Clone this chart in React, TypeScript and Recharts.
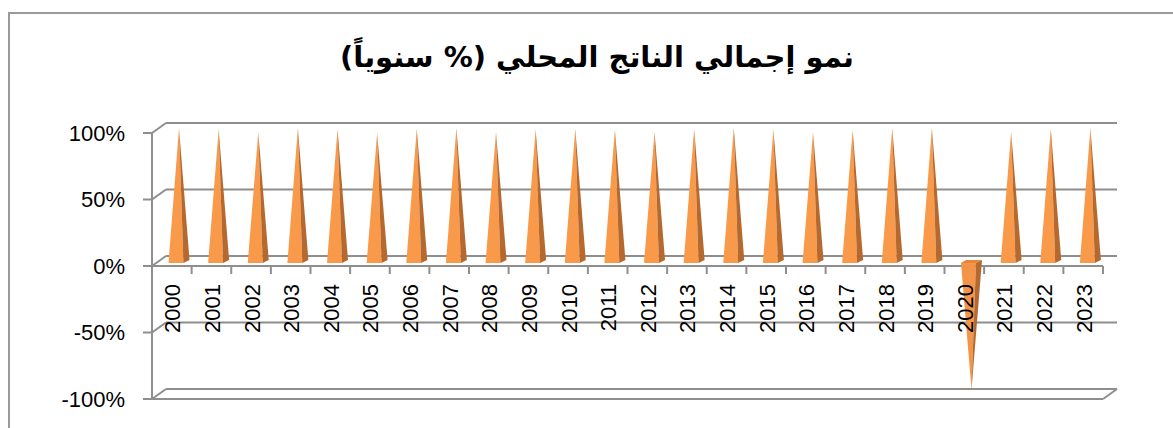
import { BarChart, Bar, XAxis, YAxis, CartesianGrid } from 'recharts';

const years = ['2000', '2001', '2002', '2003', '2004', '2005', '2006', '2007', '2008', '2009', '2010', '2011',
  '2012', '2013', '2014', '2015', '2016', '2017', '2018', '2019', '2020', '2021', '2022', '2023'];
const growth = [1.0, 0.988, 0.968, 1.0, 0.992, 0.962, 0.995, 1.0, 0.97, 0.988, 0.995, 0.988,
  0.97, 0.995, 1.0, 0.988, 0.97, 0.983, 1.0, 1.0, -0.968, 0.97, 0.995, 1.0];
const yTicks = [-1, -0.5, 0, 0.5, 1];
const title = 'نمو إجمالي الناتج المحلي (% سنوياً)';

const data = years.map((year, i) => ({ year, growth: growth[i] }));

// layout
const W = 1173;
const H = 428;
const Y_AXIS_W = 152;
const X_AXIS_H = 20;
const M = { top: 133, right: 70, bottom: 29 - X_AXIS_H, left: 0 };
const PLOT_BOTTOM = H - M.bottom - X_AXIS_H;
const ZERO_Y = (M.top + PLOT_BOTTOM) / 2;
const BAND = (W - M.right - Y_AXIS_W) / years.length;
const DX = 14; // 3d depth
const DY = -10;
const GRID = '#8e8e8e';

const gridLine = (p: any) => {
  const { x1, y1, x2, y2 } = p;
  const isZero = Math.abs(y1 - ZERO_Y) < 1;
  const isFloor = Math.abs(y1 - PLOT_BOTTOM) < 1;
  return (
    <g key={p.key}>
      <line x1={x1} y1={y1} x2={x1 + DX} y2={y1 + DY} stroke={GRID} strokeWidth={2} />
      <line x1={x1 + DX} y1={y1 + DY} x2={x2 + DX} y2={y2 + DY} stroke={GRID} strokeWidth={2} />
      {(isZero || isFloor) && <line x1={x1} y1={y1} x2={x2} y2={y2} stroke={GRID} strokeWidth={2} />}
      {isFloor && <line x1={x2} y1={y2} x2={x2 + DX} y2={y2 + DY} stroke={GRID} strokeWidth={2} />}
    </g>
  );
};

function Pyramid(props: any) {
  const { x, y, width, height } = props;
  const c = x + width / 2 + 7;
  const hw = width / 2;
  const L = c - hw;
  const F = c + hw * 0.42;
  const R = c + hw;
  const b = y + height - 3;
  const tip = y - 5;
  if (height >= 0) {
    return (
      <g>
        <polygon points={`${L},${b} ${F},${b} ${c},${tip}`} fill="#f99a4b" />
        <polygon points={`${F},${b} ${R},${b - 3} ${c},${tip}`} fill="#b5692e" />
      </g>
    );
  }
  return (
    <g>
      <polygon points={`${L},${b} ${F},${b} ${R},${b - 3} ${L + 5},${b - 3}`} fill="#e5863a" />
      <polygon points={`${L},${b} ${F},${b} ${c},${tip}`} fill="#f39448" />
      <polygon points={`${F},${b} ${R},${b - 3} ${c},${tip}`} fill="#b5692e" />
    </g>
  );
}

function YearTick(props: any) {
  const { x, payload, index } = props;
  const ty = ZERO_Y + 18;
  return (
    <g>
      <line x1={x - BAND / 2} y1={ZERO_Y} x2={x - BAND / 2} y2={ZERO_Y + 8} stroke={GRID} strokeWidth={2} />
      {index === years.length - 1 && (
        <line x1={x + BAND / 2} y1={ZERO_Y} x2={x + BAND / 2} y2={ZERO_Y + 8} stroke={GRID} strokeWidth={2} />
      )}
      <text
        x={x + 1}
        y={ty}
        transform={`rotate(-90, ${x + 1}, ${ty})`}
        textAnchor="end"
        dominantBaseline="central"
        fontFamily="'Liberation Sans', Arial, sans-serif"
        fontSize={22}
        fill="#000"
      >
        {payload.value}
      </text>
    </g>
  );
}

export default function App() {
  return (
    <div style={{ position: 'absolute', left: 0, top: 0, width: W, height: H, background: '#fff', overflow: 'hidden' }}>
      <div style={{ position: 'absolute', left: 8, top: 12, width: 1300, height: 600, border: '2px solid #9a9a9a' }} />
      <div
        style={{
          position: 'absolute', left: 0, top: 36, width: 1194, textAlign: 'center', direction: 'rtl',
          fontFamily: "'DejaVu Sans', sans-serif", fontWeight: 'bold', fontSize: 29, lineHeight: '42px', color: '#000',
        }}
      >
        {title}
      </div>
      <div style={{ position: 'absolute', left: 0, top: 0 }}>
        <BarChart width={W} height={H} data={data} margin={M} barCategoryGap="24%">
          <CartesianGrid vertical={false} horizontal={gridLine} />
          <XAxis dataKey="year" height={X_AXIS_H} axisLine={false} tickLine={false} interval={0} tick={<YearTick />} />
          <YAxis
            width={Y_AXIS_W}
            domain={[-1, 1]}
            ticks={yTicks}
            tickFormatter={(v: number) => `${Math.round(v * 100)}%`}
            tickSize={9}
            tickMargin={18}
            axisLine={{ stroke: GRID, strokeWidth: 2 }}
            tickLine={{ stroke: GRID, strokeWidth: 2 }}
            tick={{ fill: '#000', fontSize: 22, fontFamily: "'Liberation Sans', Arial, sans-serif" }}
          />
          <Bar dataKey="growth" shape={<Pyramid />} isAnimationActive={false} />
        </BarChart>
      </div>
    </div>
  );
}
